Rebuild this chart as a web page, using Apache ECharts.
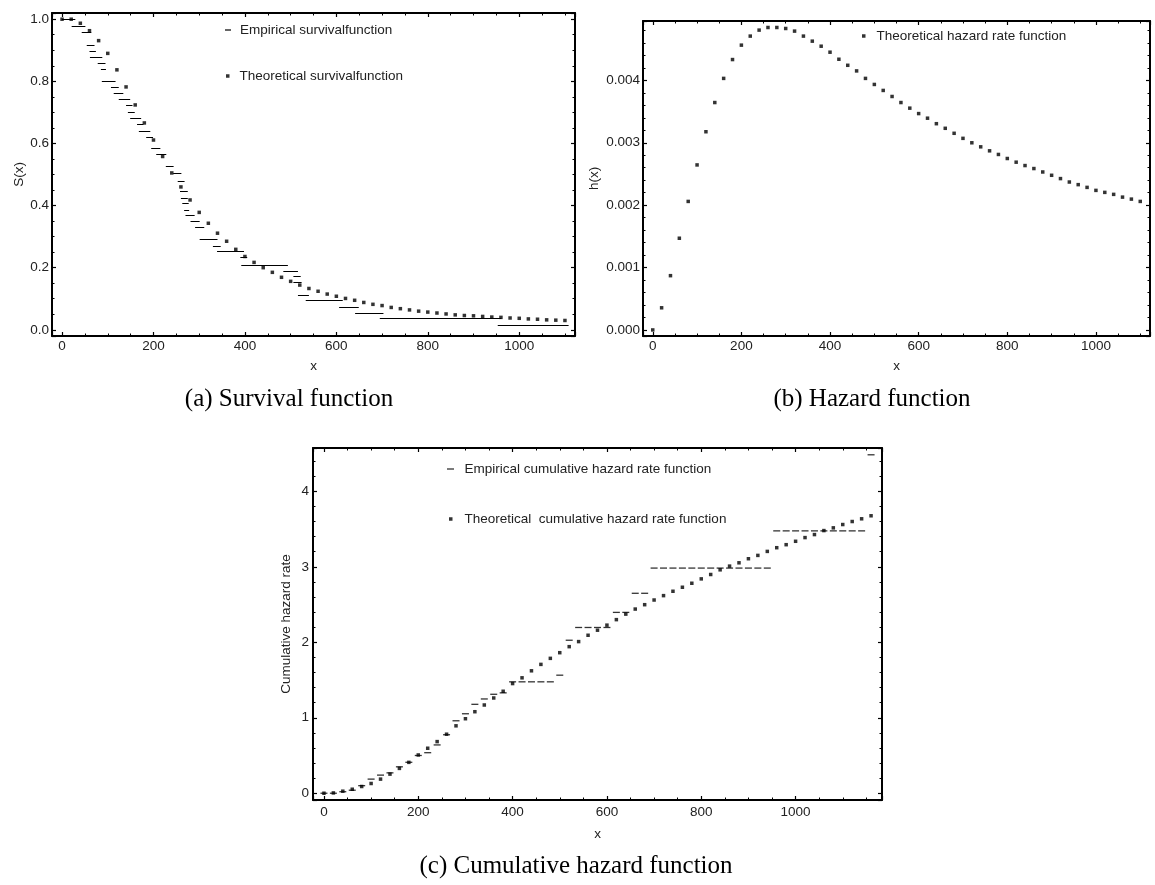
<!DOCTYPE html>
<html>
<head>
<meta charset="utf-8">
<script src="https://cdn.jsdelivr.net/npm/echarts@6/dist/echarts.min.js"></script>
<style>
  html, body { margin: 0; padding: 0; background: #fff; }
  #chart { width: 1155px; height: 885px; }
</style>
</head>
<body>
<div id="chart"></div>
<script>
// sample points of the theoretical curves, panels (a) and (b)
const xAB = [0, 20, 40, 60, 80, 100, 120, 140, 160, 180, 200, 220, 240, 260, 280, 300, 320, 340, 360, 380,
  400, 420, 440, 460, 480, 500, 520, 540, 560, 580, 600, 620, 640, 660, 680, 700, 720, 740, 760, 780,
  800, 820, 840, 860, 880, 900, 920, 940, 960, 980, 1000, 1020, 1040, 1060, 1080, 1100];
// panel (c) runs a bit further
const xC = [0, 20, 40, 60, 80, 100, 120, 140, 160, 180, 200, 220, 240, 260, 280, 300, 320, 340, 360, 380,
  400, 420, 440, 460, 480, 500, 520, 540, 560, 580, 600, 620, 640, 660, 680, 700, 720, 740, 760, 780,
  800, 820, 840, 860, 880, 900, 920, 940, 960, 980, 1000, 1020, 1040, 1060, 1080, 1100, 1120, 1140, 1160];

const survTheo = [1.000, 1.000, 0.987, 0.963, 0.931, 0.890, 0.837, 0.782, 0.724, 0.666, 0.611, 0.558, 0.505,
  0.460, 0.418, 0.378, 0.343, 0.311, 0.285, 0.259, 0.236, 0.217, 0.200, 0.185, 0.169, 0.156, 0.144, 0.133,
  0.124, 0.115, 0.108, 0.101, 0.095, 0.088, 0.082, 0.078, 0.072, 0.068, 0.064, 0.060, 0.057, 0.054, 0.051,
  0.048, 0.046, 0.045, 0.043, 0.041, 0.040, 0.038, 0.037, 0.035, 0.034, 0.032, 0.031, 0.030];

// empirical survival steps: start, end, level
const survEmpStart = [0, 21, 43, 54, 60, 61, 78, 85, 87, 107, 113, 124, 140, 144, 149, 164, 168, 184, 195, 206,
  227, 243, 253, 258, 260, 263, 267, 270, 281, 291, 301, 330, 339, 390, 392, 484, 506, 506, 516, 533, 606, 641, 695, 953];
const survEmpEnd = [29, 51, 64, 71, 74, 88, 95, 96, 117, 124, 134, 149, 154, 159, 173, 178, 193, 199, 215, 228,
  244, 261, 268, 275, 275, 277, 278, 290, 301, 311, 340, 347, 398, 405, 494, 516, 522, 524, 540, 614, 649, 703, 961, 1108];
const survEmpLevel = [1.0, 0.978, 0.958, 0.917, 0.898, 0.877, 0.858, 0.838, 0.801, 0.780, 0.761, 0.742, 0.722, 0.700,
  0.680, 0.661, 0.640, 0.621, 0.583, 0.564, 0.526, 0.503, 0.478, 0.445, 0.425, 0.406, 0.386, 0.368, 0.349, 0.329,
  0.290, 0.270, 0.252, 0.232, 0.209, 0.190, 0.171, 0.152, 0.112, 0.094, 0.074, 0.054, 0.036, 0.015];

const hazTheo = [0.0000, 0.000355, 0.00087, 0.00147, 0.00206, 0.002645, 0.003177, 0.003645, 0.004032, 0.004334,
  0.004565, 0.00471, 0.004806, 0.004848, 0.004848, 0.004832, 0.00479, 0.00471, 0.004629, 0.004548, 0.004452,
  0.004339, 0.004242, 0.004152, 0.004032, 0.003935, 0.003839, 0.003742, 0.003645, 0.003555, 0.003468, 0.003394,
  0.003306, 0.003232, 0.003152, 0.003071, 0.003000, 0.002935, 0.002871, 0.002813, 0.002748, 0.002689, 0.002635,
  0.002587, 0.002532, 0.002479, 0.002426, 0.002371, 0.002329, 0.002285, 0.002237, 0.002205, 0.002173, 0.002129,
  0.002097, 0.00206];

const cumTheo = [0.0, 0.004, 0.027, 0.053, 0.089, 0.129, 0.187, 0.253, 0.329, 0.409, 0.507, 0.596, 0.684, 0.782,
  0.893, 0.987, 1.080, 1.169, 1.262, 1.351, 1.453, 1.529, 1.622, 1.707, 1.787, 1.862, 1.942, 2.009, 2.093, 2.160,
  2.227, 2.300, 2.373, 2.440, 2.498, 2.560, 2.618, 2.676, 2.729, 2.782, 2.840, 2.898, 2.960, 3.009, 3.053, 3.107,
  3.151, 3.204, 3.253, 3.293, 3.338, 3.387, 3.427, 3.480, 3.516, 3.560, 3.600, 3.636, 3.676];

const cumEmp = [0.0, 0.0, 0.02, 0.04, 0.10, 0.187, 0.24, 0.27, 0.35, 0.41, 0.50, 0.537, 0.64, 0.775, 0.96, 1.053,
  1.178, 1.249, 1.311, 1.33, 1.476, 1.476, 1.476, 1.476, 1.476, 1.564, 2.027, 2.196, 2.196, 2.196, 2.196, 2.396,
  2.396, 2.649, 2.649, 2.983, 2.983, 2.983, 2.983, 2.983, 2.983, 2.983, 2.983, 2.983, 2.983, 2.983, 2.983, 2.983,
  3.476, 3.476, 3.476, 3.476, 3.476, 3.476, 3.476, 3.476, 3.476, 3.476, 4.484];

const sans = '"Liberation Sans", Arial, sans-serif';
const serif = '"Liberation Serif", "Times New Roman", serif';
const ink = '#000';

// one side of a Mathematica style frame: inward ticks, labels only bottom/left
function frameAxis(gridIndex, position, min, max, step, minorSplit, labelFmt, margin) {
  const labelled = position === 'bottom' || position === 'left';
  return {
    type: 'value',
    gridIndex,
    position,
    min,
    max,
    splitNumber: Math.round((max - min) / step),
    minInterval: step,
    maxInterval: step,
    axisLine: { onZero: false, lineStyle: { color: ink, width: 2 } },
    axisTick: { inside: true, length: 4, lineStyle: { color: ink, width: 1.2 } },
    minorTick: { show: true, splitNumber: minorSplit, length: 2.5, lineStyle: { color: ink, width: 1 } },
    splitLine: { show: false },
    axisLabel: {
      show: labelled,
      margin,
      showMinLabel: false,
      showMaxLabel: false,
      formatter: labelFmt,
      fontFamily: sans,
      fontSize: 13.5,
      color: '#222',
    },
  };
}

function named(axis, name, gap) {
  axis.name = name;
  axis.nameLocation = 'middle';
  axis.nameGap = gap;
  axis.nameTextStyle = { fontFamily: sans, fontSize: 13.5, color: '#222' };
  return axis;
}

function oneLegend(name, left, top, w, h, pad) {
  return {
    data: [{
      name,
      icon: 'rect',
      itemStyle: { color: ink, borderWidth: 0 },
      lineStyle: { width: 0, opacity: 0 },
    }],
    left,
    top,
    padding: 0,
    itemWidth: w,
    itemHeight: h,
    selectedMode: false,
    textStyle: { fontFamily: sans, fontSize: 13.5, color: '#222', padding: [0, 0, 0, pad] },
  };
}

const fmtInt = (v) => String(v);

const option = {
  animation: false,
  backgroundColor: '#fff',
  grid: [
    { left: 52, top: 13, width: 523, height: 323, containLabel: false, outerBoundsMode: 'none' },
    { left: 643, top: 21, width: 507, height: 315, containLabel: false, outerBoundsMode: 'none' },
    { left: 313, top: 448, width: 569, height: 352, containLabel: false, outerBoundsMode: 'none' },
  ],
  xAxis: [
    named(frameAxis(0, 'bottom', -22, 1122, 200, 4, fmtInt, 3), 'x', 23),
    frameAxis(0, 'top', -22, 1122, 200, 4, fmtInt, 3),
    named(frameAxis(1, 'bottom', -22, 1122, 200, 4, fmtInt, 3), 'x', 23),
    frameAxis(1, 'top', -22, 1122, 200, 4, fmtInt, 3),
    named(frameAxis(2, 'bottom', -23.2, 1183.2, 200, 4, fmtInt, 5), 'x', 27),
    frameAxis(2, 'top', -23.2, 1183.2, 200, 4, fmtInt, 5),
  ],
  yAxis: [
    named(frameAxis(0, 'left', -0.02, 1.02, 0.2, 4, (v) => v.toFixed(1), 3), 'S(x)', 24),
    frameAxis(0, 'right', -0.02, 1.02, 0.2, 4, null, 3),
    named(frameAxis(1, 'left', -0.0000971, 0.004952, 0.001, 5, (v) => v.toFixed(3), 3), 'h(x)', 42),
    frameAxis(1, 'right', -0.0000971, 0.004952, 0.001, 5, null, 3),
    named(frameAxis(2, 'left', -0.0897, 4.574, 1, 5, fmtInt, 4), 'Cumulative hazard rate', 20),
    frameAxis(2, 'right', -0.0897, 4.574, 1, 5, null, 4),
  ],
  legend: [
    oneLegend('Empirical survivalfunction', 225, 23, 6, 1.2, 4),
    oneLegend('Theoretical survivalfunction', 226, 69, 3.5, 3.5, 5),
    oneLegend('Theoretical hazard rate function', 862, 29, 3.5, 3.5, 6),
    oneLegend('Empirical cumulative hazard rate function', 447, 462, 7, 1.3, 5.5),
    oneLegend('Theoretical  cumulative hazard rate function', 449, 512, 3.5, 3.5, 7),
  ],
  series: [
    {
      name: 'Empirical survivalfunction',
      type: 'lines',
      coordinateSystem: 'cartesian2d',
      xAxisIndex: 0,
      yAxisIndex: 0,
      polyline: false,
      silent: true,
      lineStyle: { color: ink, width: 1.2, opacity: 1, curveness: 0 },
      data: survEmpLevel.map((lv, i) => ({ coords: [[survEmpStart[i], lv], [survEmpEnd[i], lv]] })),
    },
    {
      name: 'Theoretical survivalfunction',
      type: 'scatter',
      xAxisIndex: 0,
      yAxisIndex: 0,
      symbol: 'rect',
      symbolSize: 3.5,
      silent: true,
      itemStyle: { color: ink },
      data: xAB.map((x, i) => [x, survTheo[i]]),
    },
    {
      name: 'Theoretical hazard rate function',
      type: 'scatter',
      xAxisIndex: 2,
      yAxisIndex: 2,
      symbol: 'rect',
      symbolSize: 3.5,
      silent: true,
      itemStyle: { color: ink },
      data: xAB.map((x, i) => [x, hazTheo[i]]),
    },
    {
      name: 'Empirical cumulative hazard rate function',
      type: 'scatter',
      xAxisIndex: 4,
      yAxisIndex: 4,
      symbol: 'rect',
      symbolSize: [7, 1.3],
      silent: true,
      itemStyle: { color: ink },
      data: xC.map((x, i) => [x, cumEmp[i]]),
    },
    {
      name: 'Theoretical  cumulative hazard rate function',
      type: 'scatter',
      xAxisIndex: 4,
      yAxisIndex: 4,
      symbol: 'rect',
      symbolSize: 3.5,
      silent: true,
      itemStyle: { color: ink },
      data: xC.map((x, i) => [x, cumTheo[i]]),
    },
  ],
  graphic: [
    { type: 'text', x: 289, y: 399, style: { text: '(a) Survival function', font: '25px ' + serif, fill: ink, align: 'center', verticalAlign: 'middle' } },
    { type: 'text', x: 872, y: 399, style: { text: '(b) Hazard function', font: '25px ' + serif, fill: ink, align: 'center', verticalAlign: 'middle' } },
    { type: 'text', x: 576, y: 866, style: { text: '(c) Cumulative hazard function', font: '25px ' + serif, fill: ink, align: 'center', verticalAlign: 'middle' } },
  ],
};

const myChart = echarts.init(document.getElementById('chart'), null, { renderer: 'canvas' });
myChart.setOption(option);
</script>
</body>
</html>
